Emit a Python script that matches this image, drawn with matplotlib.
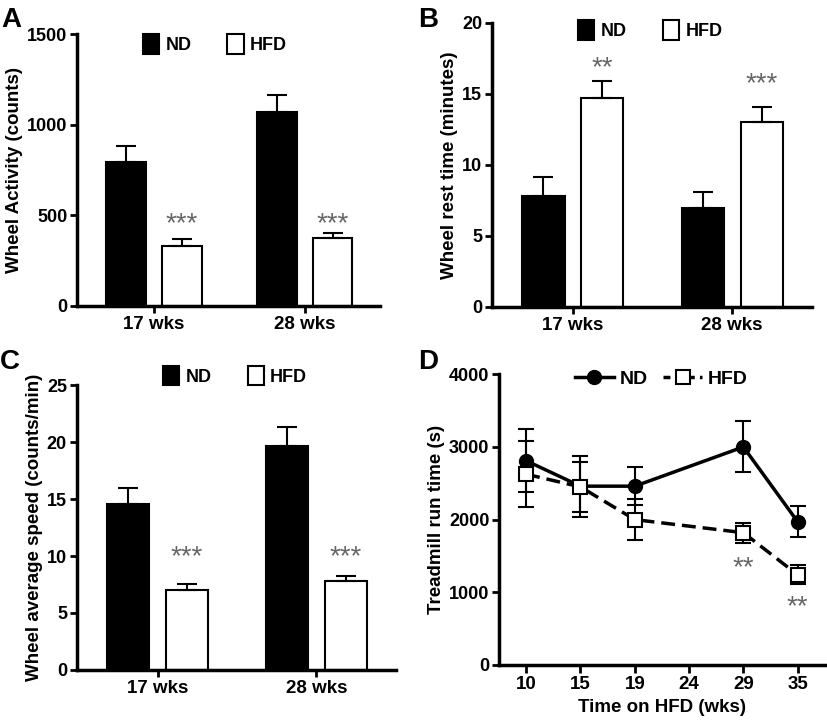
import numpy as np
import matplotlib
matplotlib.use('Agg')
import matplotlib.pyplot as plt
from matplotlib.lines import Line2D

plt.rcParams['font.family'] = ['Liberation Sans', 'DejaVu Sans']
plt.rcParams['font.weight'] = 'bold'

groups = ['17 wks', '28 wks']

# A: wheel activity (counts)
act_nd = [795, 1072]
act_nd_err = [86, 93]
act_hfd = [333, 375]
act_hfd_err = [35, 28]

# B: wheel rest time (minutes)
rest_nd = [7.8, 6.95]
rest_nd_err = [1.32, 1.15]
rest_hfd = [14.7, 13.0]
rest_hfd_err = [1.2, 1.1]

# C: wheel average speed (counts/min)
speed_nd = [14.6, 19.65]
speed_nd_err = [1.4, 1.65]
speed_hfd = [7.0, 7.78]
speed_hfd_err = [0.55, 0.5]

# D: treadmill run time (s)
weeks = ['10', '15', '19', '24', '29', '35']
run_x = [0, 1, 2, 4, 5]
run_nd = [2810, 2460, 2460, 3000, 1970]
run_nd_err = [430, 420, 260, 350, 215]
run_hfd = [2625, 2450, 2000, 1820, 1240]
run_hfd_err = [450, 340, 280, 140, 130]

GREY = '#666666'


def style_axes(ax):
    for s in ['top', 'right']:
        ax.spines[s].set_visible(False)
    for s in ['left', 'bottom']:
        ax.spines[s].set_linewidth(2.5)
    ax.tick_params(axis='both', width=2, length=5, labelsize=13, direction='out', pad=2)
    ax.tick_params(axis='x', labelsize=13.5, length=5, pad=2)


def bar_panel(ax, nd, nd_err, hfd, hfd_err, ymax, ystep, ylabel, stars, star_y, leg_xy):
    x = np.arange(len(groups))
    w = 0.265
    ax.bar(x - 0.185, nd, w, color='black', edgecolor='black', linewidth=1.5, label='ND',
           yerr=[np.zeros(len(nd)), nd_err], error_kw=dict(ecolor='black', elinewidth=1.5,
                                                          capsize=7.5, capthick=1.5))
    ax.bar(x + 0.185, hfd, w, color='white', edgecolor='black', linewidth=1.5, label='HFD',
           yerr=[np.zeros(len(hfd)), hfd_err], error_kw=dict(ecolor='black', elinewidth=1.5,
                                                            capsize=7.5, capthick=1.5))
    for i in range(len(groups)):
        ax.text(x[i] + 0.185, star_y[i], stars[i], ha='center', va='center',
                fontsize=20, color=GREY, fontweight='normal')
    ax.set_xlim(-0.51, 1.5)
    ax.set_ylim(0, ymax)
    ax.set_yticks(np.arange(0, ymax + 1, ystep))
    ax.set_xticks(x)
    ax.set_xticklabels(groups)
    ax.set_ylabel(ylabel, fontsize=13.5, fontweight='bold', labelpad=3)
    style_axes(ax)
    ax.legend(loc='center', bbox_to_anchor=leg_xy, ncol=2, frameon=False, fontsize=13,
              handlelength=0.9, handleheight=1.3, handletextpad=0.35, columnspacing=2.0)


fig = plt.figure(figsize=(8.27, 7.25), dpi=100)

axA = fig.add_axes([0.0931, 0.578, 0.3664, 0.375])
bar_panel(axA, act_nd, act_nd_err, act_hfd, act_hfd_err, 1500, 500,
          'Wheel Activity (counts)', ['***', '***'], [450, 450], (0.455, 0.963))

axB = fig.add_axes([0.5946, 0.5766, 0.387, 0.392])
bar_panel(axB, rest_nd, rest_nd_err, rest_hfd, rest_hfd_err, 20, 5,
          'Wheel rest time (minutes)', ['**', '***'], [16.8, 15.7], (0.495, 0.975))

axC = fig.add_axes([0.0927, 0.0759, 0.386, 0.393])
bar_panel(axC, speed_nd, speed_nd_err, speed_hfd, speed_hfd_err, 25, 5,
          'Wheel average speed (counts/min)', ['***', '***'], [9.9, 9.9], (0.496, 1.033))

axD = fig.add_axes([0.6034, 0.0828, 0.394, 0.401])
axD.errorbar(run_x, run_nd, yerr=run_nd_err, color='black', lw=2.5, marker='o',
             markersize=10, capsize=6, capthick=1.5, elinewidth=1.5)
axD.errorbar(run_x, run_hfd, yerr=run_hfd_err, color='black', lw=2.5, ls=(0, (4, 2)),
             marker='s', markersize=10, markerfacecolor='white', markeredgewidth=1.5,
             capsize=6, capthick=1.5, elinewidth=1.5)
axD.text(run_x[3], 1330, '**', ha='center', va='center', fontsize=20, color=GREY,
         fontweight='normal')
axD.text(run_x[4], 790, '**', ha='center', va='center', fontsize=20, color=GREY,
         fontweight='normal')
axD.set_xlim(-0.5, 5.5)
axD.set_ylim(0, 4000)
axD.set_yticks(np.arange(0, 4001, 1000))
axD.set_xticks(np.arange(len(weeks)))
axD.set_xticklabels(weeks)
axD.set_ylabel('Treadmill run time (s)', fontsize=13.5, fontweight='bold', labelpad=3)
axD.set_xlabel('Time on HFD (wks)', fontsize=13.5, fontweight='bold', labelpad=4)
style_axes(axD)
axD.tick_params(axis='x', length=6)
h_nd = Line2D([], [], color='black', lw=2.5, marker='o', markersize=10)
h_hfd = Line2D([], [], color='black', lw=2.5, ls=(0, (2, 1.5)), marker='s', markersize=10,
               markerfacecolor='white', markeredgewidth=1.5)
axD.legend([h_nd, h_hfd], ['ND', 'HFD'], loc='center', bbox_to_anchor=(0.498, 0.983),
           ncol=2, frameon=False, fontsize=14, handlelength=2.0, handletextpad=0.3,
           columnspacing=0.8)

for lab, xx, yy in [('A', 0.002, 0.99), ('B', 0.506, 0.99), ('C', 0.0, 0.518), ('D', 0.506, 0.518)]:
    fig.text(xx, yy, lab, fontsize=20, fontweight='bold', va='top', ha='left')

fig.savefig('out.png', dpi=100)
